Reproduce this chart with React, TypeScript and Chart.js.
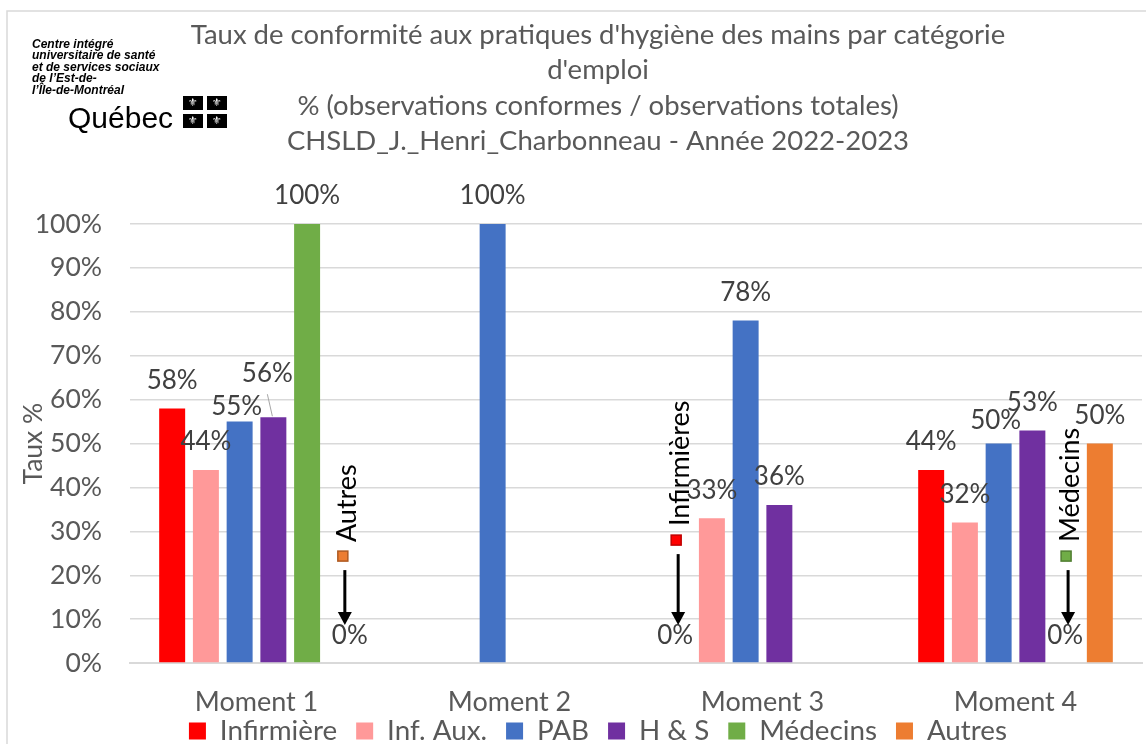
import React, { useEffect, useRef } from 'react';
import { Chart, registerables } from 'chart.js';

Chart.register(...registerables);

// ---------- data ----------
const categories = ['Moment 1', 'Moment 2', 'Moment 3', 'Moment 4'];
const seriesNames = ['Infirmière', 'Inf. Aux.', 'PAB', 'H & S', 'Médecins', 'Autres'];
const infirmiere = [58, null, 0, 44];
const infAux = [44, null, 33, 32];
const pab = [55, 100, 78, 50];
const hs = [56, null, 36, 53];
const medecins = [100, null, null, 0];
const autres = [0, null, null, 50];
const yTickValues = [0, 10, 20, 30, 40, 50, 60, 70, 80, 90, 100];
const titleLines = [
  "Taux de conformité aux pratiques d'hygiène des mains par catégorie",
  "d'emploi",
  '% (observations conformes / observations totales)',
  'CHSLD_J._Henri_Charbonneau - Année 2022-2023',
];
const yAxisTitle = 'Taux %';
const logoLines = [
  'Centre intégré',
  'universitaire de santé',
  'et de services sociaux',
  'de l’Est-de-',
  'l’Île-de-Montréal',
];
const logoWord = 'Québec';
// zero-value callouts: series index, category index, text
const zeroCallouts = [
  { ds: 5, idx: 0, text: 'Autres', dx: 2, zdx: 9, lift: 0 },
  { ds: 0, idx: 2, text: 'Infirmières', dx: -2, zdx: -3, lift: 16 },
  { ds: 4, idx: 3, text: 'Médecins', dx: 0, zdx: -1, lift: 0 },
];

// ---------- styles ----------
const colors = ['#FF0000', '#FF9999', '#4472C4', '#7030A0', '#70AD47', '#ED7D31'];
const markerBorders = ['#C00000', '#d07070', '#2f528f', '#4b1f6f', '#507e32', '#ae5a21'];
const FONT = 'Lato';
const TEXT = '#595959';
const GRID = '#d9d9d9';
const LABEL_SIZE = 26;
const labelNudges: Record<string, { dx: number; dy: number; leader?: boolean }> = {
  '2-0': { dx: -3, dy: 13 },
  '3-0': { dx: -6, dy: -16, leader: true },
  '2-3': { dx: -3, dy: 5 },
};

const seriesData = [infirmiere, infAux, pab, hs, medecins, autres];

const decorPlugin = {
  id: 'decor',
  beforeDraw(chart: any) {
    const { ctx, width, height } = chart;
    ctx.save();
    ctx.fillStyle = '#ffffff';
    ctx.fillRect(0, 0, width, height);
    ctx.strokeStyle = GRID;
    ctx.lineWidth = 1.5;
    ctx.strokeRect(7, 11, width + 20, height + 20);
    ctx.restore();
  },
  afterDraw(chart: any) {
    const { ctx } = chart;
    ctx.save();
    ctx.fillStyle = '#000000';
    ctx.textAlign = 'left';
    ctx.textBaseline = 'middle';
    ctx.font = "bold italic 12px 'Liberation Sans'";
    logoLines.forEach((l, i) => ctx.fillText(l, 32, 44.5 + i * 11.5));
    ctx.font = "30px 'Liberation Sans'";
    ctx.textBaseline = 'alphabetic';
    ctx.fillText(logoWord, 68, 128);
    const cells = [
      [183, 96],
      [207, 96],
      [183, 114],
      [207, 114],
    ];
    cells.forEach(([x, y]) => {
      ctx.fillStyle = '#000000';
      ctx.fillRect(x, y, 20, 14);
      ctx.fillStyle = '#ffffff';
      ctx.font = "11px 'DejaVu Sans'";
      ctx.textAlign = 'center';
      ctx.textBaseline = 'middle';
      ctx.fillText('⚜', x + 10, y + 7.5);
    });
    ctx.restore();
  },
  afterDatasetsDraw(chart: any) {
    const { ctx } = chart;
    const y0 = chart.scales.y.getPixelForValue(0);
    ctx.save();
    ctx.font = `${LABEL_SIZE}px ${FONT}`;
    ctx.textAlign = 'center';
    ctx.textBaseline = 'middle';
    chart.data.datasets.forEach((ds: any, di: number) => {
      const meta = chart.getDatasetMeta(di);
      ds.data.forEach((v: number | null, i: number) => {
        if (v === null || v === 0) return;
        const bar = meta.data[i];
        const n = labelNudges[`${di}-${i}`] || { dx: 0, dy: 0 };
        const lx = bar.x + n.dx;
        const ly = bar.y - 28 + n.dy;
        ctx.fillStyle = '#404040';
        ctx.fillText(`${v}%`, lx, ly);
        if (n.leader) {
          ctx.strokeStyle = '#a6a6a6';
          ctx.lineWidth = 1;
          ctx.beginPath();
          ctx.moveTo(lx, ly + 21);
          ctx.lineTo(bar.x - 1, bar.y - 1);
          ctx.stroke();
        }
      });
    });
    zeroCallouts.forEach((c) => {
      const bar = chart.getDatasetMeta(c.ds).data[c.idx];
      const x = bar.x + c.dx;
      ctx.fillStyle = '#404040';
      ctx.font = `${LABEL_SIZE}px ${FONT}`;
      ctx.textAlign = 'center';
      ctx.textBaseline = 'middle';
      ctx.fillText('0%', bar.x + c.zdx, y0 - 27);
      const top = y0 - 93 - c.lift;
      const tip = y0 - 38;
      ctx.strokeStyle = '#000000';
      ctx.fillStyle = '#000000';
      ctx.lineWidth = 3;
      ctx.beginPath();
      ctx.moveTo(x + 2, top);
      ctx.lineTo(x + 2, tip - 12);
      ctx.stroke();
      ctx.beginPath();
      ctx.moveTo(x + 2 - 7, tip - 13);
      ctx.lineTo(x + 2 + 7, tip - 13);
      ctx.lineTo(x + 2, tip);
      ctx.closePath();
      ctx.fill();
      const my = y0 - 107 - c.lift;
      ctx.fillStyle = colors[c.ds];
      ctx.fillRect(x - 5, my - 5, 10, 10);
      ctx.strokeStyle = markerBorders[c.ds];
      ctx.lineWidth = 1.5;
      ctx.strokeRect(x - 5, my - 5, 10, 10);
      ctx.save();
      ctx.translate(x + 4, my - 14);
      ctx.rotate(-Math.PI / 2);
      ctx.fillStyle = '#000000';
      ctx.font = `27px ${FONT}`;
      ctx.textAlign = 'left';
      ctx.textBaseline = 'middle';
      ctx.fillText(c.text, 0, 0);
      ctx.restore();
    });
    ctx.restore();
  },
};

export default function App() {
  const ref = useRef<HTMLCanvasElement | null>(null);
  useEffect(() => {
    if (!ref.current) return;
    const chart = new Chart(ref.current, {
      type: 'bar',
      data: {
        labels: categories,
        datasets: seriesNames.map((name, i) => ({
          label: name,
          data: seriesData[i],
          backgroundColor: colors[i],
          borderWidth: 0,
          categoryPercentage: 0.8,
          barPercentage: 0.77,
        })),
      },
      options: {
        responsive: false,
        animation: false,
        layout: { padding: 0 },
        plugins: {
          title: {
            display: true,
            text: titleLines,
            color: TEXT,
            font: { family: FONT, size: 27.5, weight: 'normal', lineHeight: 1.291 },
            padding: { top: 17, bottom: 65 },
          },
          legend: {
            position: 'bottom',
            labels: {
              boxWidth: 17,
              boxHeight: 17,
              padding: 19,
              color: TEXT,
              font: { family: FONT, size: 27.8 },
            },
          },
          tooltip: { enabled: false },
        },
        scales: {
          x: {
            grid: { display: false, drawTicks: false },
            border: { color: GRID, width: 2 },
            ticks: { color: TEXT, font: { family: FONT, size: 27 }, padding: -55.2, mirror: true },
            afterFit(s: any) {
              s.height = 35.1;
            },
          },
          y: {
            min: 0,
            max: 100,
            afterBuildTicks(s: any) {
              s.ticks = yTickValues.map((v) => ({ value: v }));
            },
            ticks: {
              color: TEXT,
              font: { family: FONT, size: 26.5 },
              padding: 28,
              callback: (v: any) => `${v}%`,
            },
            grid: { color: GRID, lineWidth: 1.5, drawTicks: false },
            border: { display: false },
            title: {
              display: true,
              text: yAxisTitle,
              color: TEXT,
              font: { family: FONT, size: 26.5 },
              padding: { top: 17.1, bottom: 0 },
            },
            afterFit(s: any) {
              s.width = 130;
            },
          },
          // empty right-hand spacer so the chart area ends where the reference's does
          spacer: {
            type: 'linear',
            position: 'right',
            display: true,
            grid: { display: false, drawTicks: false },
            border: { display: false },
            ticks: { display: false },
            afterFit(s: any) {
              s.width = 54;
            },
          },
        },
      },
      plugins: [decorPlugin],
    });
    return () => chart.destroy();
  }, []);
  return (
    <div style={{ position: 'absolute', left: 0, top: 0, width: 1146, height: 744, overflow: 'hidden', background: '#fff' }}>
      <canvas ref={ref} width={1196} height={755} style={{ display: 'block' }} />
    </div>
  );
}
